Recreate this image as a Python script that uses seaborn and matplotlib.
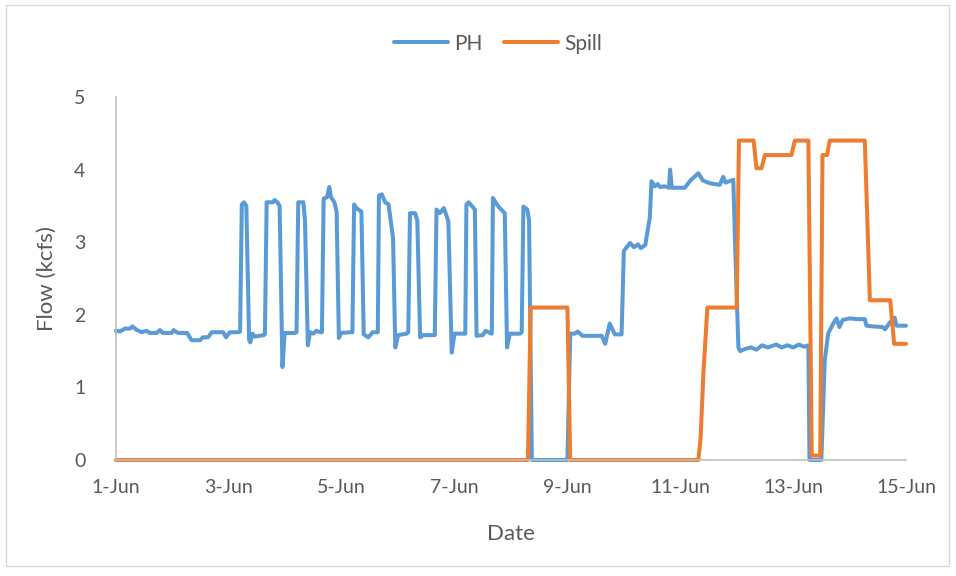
import matplotlib
matplotlib.use('Agg')
import matplotlib.pyplot as plt
import pandas as pd
import seaborn as sns
from matplotlib.patches import Rectangle

sns.set_theme(style='white')
plt.rcParams['font.family'] = ['Lato', 'DejaVu Sans']

# day of June (1.0 = 1-Jun 00:00), flow in kcfs
PH_DAY = [1.00, 1.07, 1.16, 1.25, 1.29, 1.37, 1.46, 1.54, 1.60, 1.72, 1.78, 1.83, 1.99, 2.02,
          2.10, 2.26, 2.34, 2.49, 2.54, 2.63, 2.70, 2.90, 2.95, 3.02, 3.17,
          3.20, 3.23, 3.27, 3.31, 3.36, 3.38, 3.42, 3.46, 3.62,
          3.64, 3.67, 3.78, 3.81, 3.86, 3.90, 3.95, 3.99, 4.17,
          4.20, 4.23, 4.32, 4.35, 4.40, 4.44, 4.50, 4.55, 4.62,
          4.65, 4.68, 4.74, 4.78, 4.81, 4.87, 4.91, 4.95, 4.99, 5.16,
          5.19, 5.22, 5.26, 5.35, 5.39, 5.47, 5.55, 5.64,
          5.66, 5.71, 5.77, 5.83, 5.91, 5.95, 6.00, 6.15,
          6.18, 6.21, 6.30, 6.34, 6.39, 6.44, 6.65,
          6.68, 6.74, 6.81, 6.89, 6.95, 7.00, 7.18,
          7.19, 7.21, 7.25, 7.36, 7.39, 7.50, 7.55, 7.66,
          7.68, 7.75, 7.80, 7.89, 7.93, 7.98, 8.16,
          8.19, 8.22, 8.29, 8.32, 8.37, 9.00, 9.05, 9.13, 9.18, 9.27, 9.61, 9.67, 9.75, 9.84, 9.96,
          10.00, 10.11, 10.18, 10.25, 10.30, 10.38, 10.46, 10.49, 10.55, 10.60, 10.64, 10.72,
          10.80, 10.82, 10.85, 11.08, 11.18, 11.32, 11.40, 11.53, 11.70, 11.76, 11.80, 11.94,
          11.97, 12.03, 12.06, 12.15, 12.25, 12.35, 12.45, 12.55, 12.70, 12.80, 12.90, 13.00,
          13.10, 13.20, 13.27, 13.29, 13.50, 13.56, 13.62, 13.71, 13.77, 13.82, 13.88, 14.00,
          14.15, 14.27, 14.30, 14.42, 14.59, 14.63, 14.72, 14.80, 14.83, 15.00]
PH_FLOW = [1.78, 1.77, 1.81, 1.81, 1.84, 1.79, 1.76, 1.78, 1.75, 1.75, 1.79, 1.75, 1.75, 1.79,
           1.75, 1.75, 1.65, 1.65, 1.69, 1.69, 1.76, 1.76, 1.69, 1.76, 1.76,
           1.77, 3.52, 3.55, 3.50, 1.65, 1.62, 1.74, 1.70, 1.72,
           1.74, 3.55, 3.55, 3.58, 3.55, 3.50, 1.28, 1.75, 1.75,
           1.76, 3.55, 3.55, 3.30, 1.58, 1.76, 1.74, 1.78, 1.76,
           1.76, 3.60, 3.62, 3.76, 3.62, 3.55, 3.42, 1.68, 1.75, 1.76,
           1.76, 3.52, 3.47, 3.42, 1.73, 1.69, 1.76, 1.76,
           3.64, 3.66, 3.55, 3.52, 3.06, 1.55, 1.72, 1.74,
           1.76, 3.40, 3.40, 3.30, 1.69, 1.72, 1.72,
           3.45, 3.40, 3.47, 3.29, 1.48, 1.74, 1.74,
           1.74, 3.52, 3.55, 3.45, 1.71, 1.72, 1.78, 1.74,
           3.61, 3.52, 3.47, 3.40, 1.55, 1.74, 1.74,
           1.76, 3.49, 3.45, 3.30, 0.00, 0.00, 1.74, 1.74, 1.77, 1.71, 1.71, 1.60, 1.88, 1.73, 1.73,
           2.88, 2.99, 2.93, 2.97, 2.92, 2.96, 3.34, 3.84, 3.77, 3.80, 3.76, 3.77,
           3.75, 4.00, 3.75, 3.75, 3.85, 3.95, 3.85, 3.81, 3.79, 3.90, 3.82, 3.86,
           3.00, 1.55, 1.50, 1.53, 1.55, 1.52, 1.58, 1.55, 1.59, 1.55, 1.58, 1.55,
           1.59, 1.56, 1.58, 0.00, 0.00, 1.37, 1.74, 1.88, 1.95, 1.83, 1.93, 1.95,
           1.94, 1.94, 1.85, 1.84, 1.83, 1.80, 1.90, 1.96, 1.85, 1.85]

SPILL_DAY = [1.00, 8.30, 8.35, 9.00, 9.05, 11.32, 11.36, 11.41, 11.48, 12.00, 12.04, 12.30,
             12.35, 12.44, 12.50, 12.97, 13.03, 13.27, 13.33, 13.48, 13.52, 13.60, 13.65,
             14.27, 14.36, 14.72, 14.79, 15.00]
SPILL_FLOW = [0.00, 0.00, 2.10, 2.10, 0.00, 0.00, 0.30, 1.20, 2.10, 2.10, 4.40, 4.40,
              4.02, 4.02, 4.20, 4.20, 4.40, 4.40, 0.06, 0.06, 4.20, 4.20, 4.40,
              4.40, 2.20, 2.20, 1.60, 1.60]

X_TICKS = [1, 3, 5, 7, 9, 11, 13, 15]
X_LABELS = [f'{d}-Jun' for d in X_TICKS]
PALETTE = {'PH': '#5B9BD5', 'Spill': '#ED7D31'}

df = pd.concat([
    pd.DataFrame({'day': PH_DAY, 'flow': PH_FLOW, 'series': 'PH'}),
    pd.DataFrame({'day': SPILL_DAY, 'flow': SPILL_FLOW, 'series': 'Spill'}),
])

fig = plt.figure(figsize=(9.56, 5.76), dpi=100)
ax = fig.add_axes([0.1213, 0.2014, 0.8264, 0.6302])
sns.lineplot(data=df, x='day', y='flow', hue='series', palette=PALETTE,
             estimator=None, sort=False, linewidth=2.9, ax=ax)
for line in ax.get_lines():
    line.set_clip_on(False)
    line.set_solid_joinstyle('round')
    line.set_solid_capstyle('round')

ax.set_xlim(1, 15)
ax.set_ylim(0, 5)
ax.set_xticks(X_TICKS)
ax.set_xticklabels(X_LABELS)
ax.set_yticks(range(0, 6))
ax.tick_params(length=0, labelsize=14, labelcolor='#595959')
ax.tick_params(axis='x', pad=14)
ax.tick_params(axis='y', pad=22)
for side in ['top', 'right']:
    ax.spines[side].set_visible(False)
for side in ['left', 'bottom']:
    ax.spines[side].set_color('#BFBFBF')
    ax.spines[side].set_linewidth(1.2)
ax.set_xlabel('Date', fontsize=16, color='#595959')
ax.set_ylabel('Flow (kcfs)', fontsize=16, color='#595959')
ax.xaxis.set_label_coords(0.5, -0.175)
ax.yaxis.set_label_coords(-0.075, 0.5)

handles, labels = ax.get_legend_handles_labels()
leg = ax.legend(handles, labels, loc='center', bbox_to_anchor=(0.521, 0.924),
                bbox_transform=fig.transFigure, ncol=2, frameon=False, fontsize=15,
                handlelength=2.6, handletextpad=0.3, columnspacing=1.0, labelcolor='#595959')

fig.patches.append(Rectangle((0.006, 0.017), 0.987, 0.974, transform=fig.transFigure,
                             fill=False, edgecolor='#D9D9D9', linewidth=1.0))

fig.savefig('out.png', dpi=100, facecolor='white')
